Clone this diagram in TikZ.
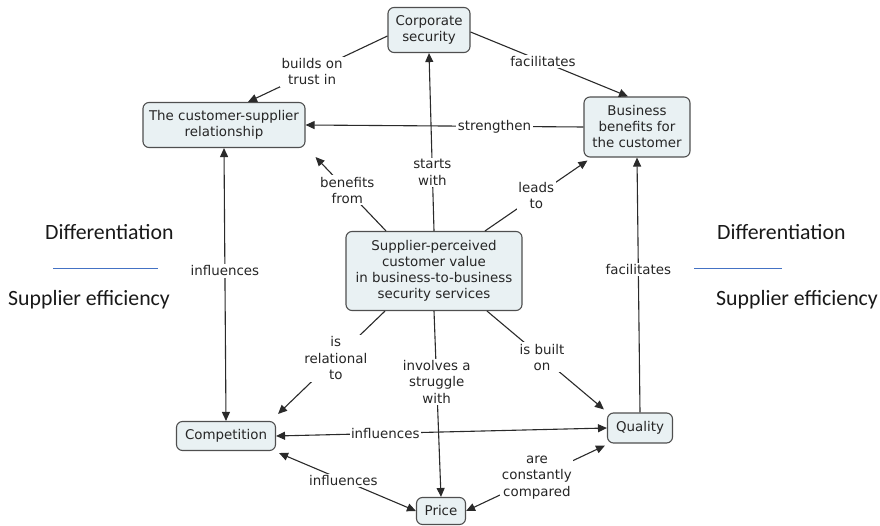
\documentclass[tikz,border=0pt]{standalone}
\usepackage{fontspec}
\setmainfont{DejaVu Sans}
\newfontfamily\sidefont{Carlito}
\usetikzlibrary{arrows.meta,calc}
\definecolor{boxfill}{HTML}{E9F1F3}
\definecolor{boxline}{HTML}{4F4F4F}
\definecolor{linkline}{HTML}{2A2A2A}
\definecolor{rulerblue}{HTML}{4472C4}
\begin{document}
\begin{tikzpicture}[x=1pt,y=-1pt,
  concept/.style={draw=boxline, line width=1.1pt, fill=boxfill, rounded corners=6pt,
    align=center, inner sep=1pt, font=\fontsize{13.4}{16}\selectfont, text=black!85},
  lab/.style={fill=white, inner sep=1.5pt, align=center,
    font=\fontsize{13.4}{16.5}\selectfont, text=black!85},
  link/.style={draw=linkline, line width=1.1pt, -{Triangle[length=9pt,width=8pt]}},
  twoway/.style={draw=linkline, line width=1.1pt, {Triangle[length=9pt,width=8pt]}-{Triangle[length=9pt,width=8pt]}},
  side/.style={font=\sidefont\fontsize{21.8}{24}\selectfont, anchor=west, inner sep=0pt, text=black!90},
  ruler/.style={draw=rulerblue, line width=0.8pt}]
\useasboundingbox (0,0) rectangle (880,526);

% concepts
\node[concept, minimum width=82pt, minimum height=45pt] (corp) at (429,30) {Corporate\\security};
\node[concept, minimum width=162pt, minimum height=45pt] (rel) at (224,125) {The customer-supplier\\relationship};
\node[concept, minimum width=106pt, minimum height=60pt] (bb) at (637,127) {Business\\benefits for\\the customer};
\node[concept, minimum width=176pt, minimum height=79pt] (central) at (434,271)
  {Supplier-perceived\\customer value\\in business-to-business\\security services};
\node[concept, minimum width=99pt, minimum height=29pt] (comp) at (226,436) {Competition};
\node[concept, minimum width=65pt, minimum height=30pt] (qual) at (640,428) {Quality};
\node[concept, minimum width=49pt, minimum height=27pt] (price) at (441,511) {Price};

% links
\draw[link] ([shift={(0,6)}]corp.west) -- node[lab, pos=0.54] {builds on\\trust in} ([xshift=24]rel.north);
\draw[link] ([shift={(0,2)}]corp.east) -- node[lab, pos=0.46] {facilitates} ([xshift=-9]bb.north);
\draw[link] (bb.west) -- node[lab, pos=0.32] {strengthen} (rel.east);
\draw[link] (central.north) -- node[lab, pos=0.33] {starts\\with} (corp.south);
\draw[link] ([xshift=-48]central.north) -- node[lab, pos=0.55] {benefits\\from} ([shift={(10,9)}]rel.south east);
\draw[link] ([xshift=51]central.north) -- node[lab, pos=0.5] {leads\\to} ([shift={(4,3)}]bb.south west);
\draw[twoway] (rel.south) -- node[lab, pos=0.45] {influences} (comp.north);
\draw[link] (qual.north) -- node[lab, pos=0.56] {facilitates} (bb.south);
\draw[link] ([xshift=-49]central.south) -- node[lab, pos=0.46] {is\\relational\\to} ([shift={(2,-7)}]comp.north east);
\draw[link] (central.south) -- node[lab, pos=0.38] {involves a\\struggle\\with} (price.north);
\draw[link] ([xshift=53]central.south) -- node[lab, pos=0.47] {is built\\on} ([shift={(-3,-3)}]qual.north west);
\draw[twoway] (comp.east) -- node[lab, pos=0.33] {influences} (qual.west);
\draw[twoway] ([shift={(3,2)}]comp.south east) -- node[lab, pos=0.47] {influences} (price.west);
\draw[twoway] (price.east) -- node[lab, pos=0.51] {are\\constantly\\compared} ([shift={(-2,2)}]qual.south west);

% side captions
\node[side] (ldiff) at (45,232) {Differentiation};
\coordinate (lrulea) at (53,268);
\coordinate (lruleb) at (158,268);
\draw[ruler] (lrulea) -- (lruleb);
\node[side] (lsupp) at (8,300) {Supplier efficiency};
\node[side] (rdiff) at (717,232) {Differentiation};
\coordinate (rrulea) at (694,268);
\coordinate (rruleb) at (782,268);
\draw[ruler] (rrulea) -- (rruleb);
\node[side] (rsupp) at (716,300) {Supplier efficiency};
\end{tikzpicture}
\end{document}
